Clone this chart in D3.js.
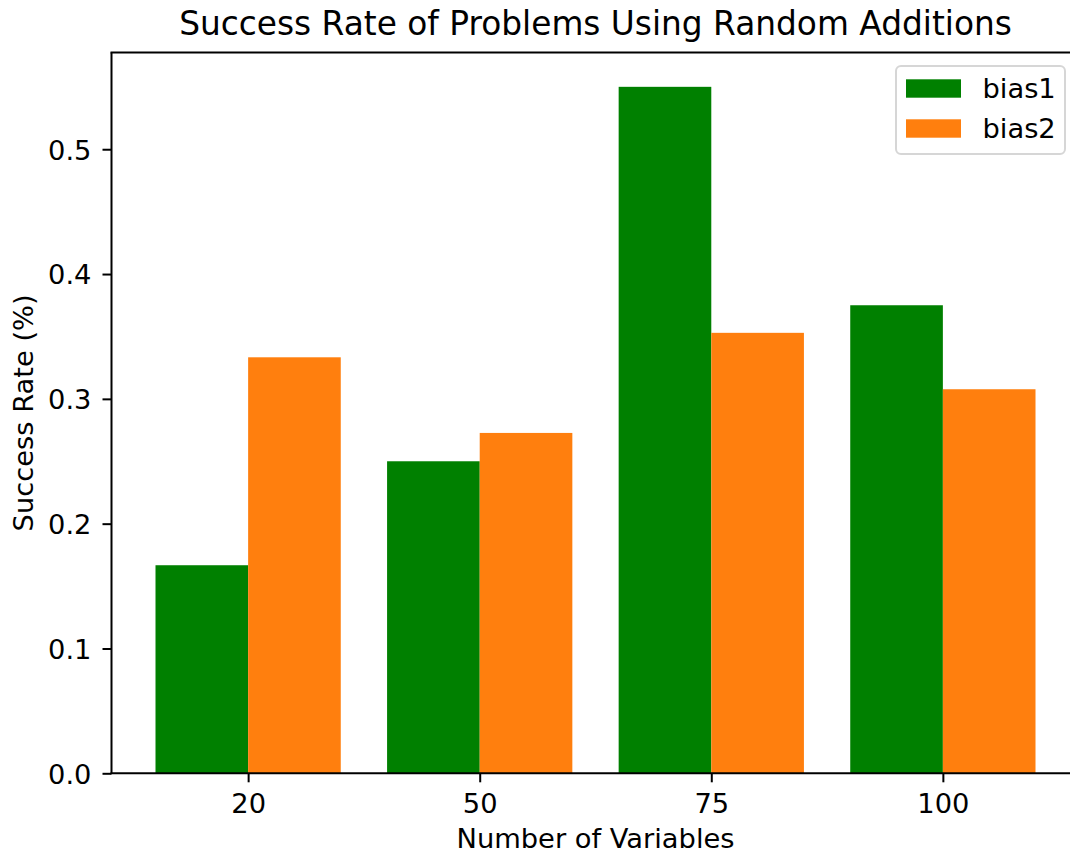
<!DOCTYPE html>
<html><head><meta charset="utf-8">
<script src="https://cdn.jsdelivr.net/npm/d3@7"></script>
<style>html,body{margin:0;padding:0;background:#fff;overflow:hidden}text{font-family:"DejaVu Sans",sans-serif;fill:#000}</style>
</head><body>
<script>
const categories = ["20", "50", "75", "100"];
const bias1 = [0.1667, 0.25, 0.55, 0.375];
const bias2 = [0.3333, 0.2727, 0.3529, 0.3077];
const seriesNames = ["bias1", "bias2"];
const seriesColors = ["#008000", "#ff7f0e"];
const yTicks = [0.0, 0.1, 0.2, 0.3, 0.4, 0.5];

const W = 1070, H = 853;
const L = 111.5, R = 1079.5, T = 52.5, B = 773.3;
const svg = d3.select("body").append("svg").attr("width", W).attr("height", H);

const x = d3.scaleLinear().domain([-0.59, categories.length - 1 + 0.59]).range([L, R]);
const y = d3.scaleLinear().domain([0, 0.5775]).range([B, T]);
const bw = 0.4;

const series = [bias1, bias2];
series.forEach((vals, s) => {
  svg.append("g").selectAll("rect").data(vals).join("rect")
    .attr("x", (d, i) => x(i + (s === 0 ? -bw : 0)))
    .attr("width", (d, i) => x(i + bw) - x(i))
    .attr("y", d => y(d))
    .attr("height", d => y(0) - y(d))
    .attr("fill", seriesColors[s]);
});

// axes
const fs = 27.3;
const yAxis = d3.axisLeft(y).tickValues(yTicks).tickFormat(d3.format(".1f")).tickSize(9).tickPadding(11);
const gy = svg.append("g").attr("transform", `translate(${L},0)`).call(yAxis);
const xAxis = d3.axisBottom(x).tickValues(d3.range(categories.length)).tickFormat(i => categories[i]).tickSize(9).tickPadding(8);
const gx = svg.append("g").attr("transform", `translate(0,${B})`).call(xAxis);
[gx, gy].forEach(g => {
  g.selectAll(".domain").remove();
  g.selectAll("line").attr("stroke", "#000").attr("stroke-width", 2);
  g.selectAll("text").attr("font-size", fs).attr("font-family", "DejaVu Sans").attr("fill", "#000");
});
gx.selectAll("text").attr("dy", null).attr("y", 40);
gy.selectAll("text").attr("dy", "0.36em");

// spines
const sp = svg.append("g").attr("stroke", "#000").attr("stroke-width", 2).attr("fill", "none");
sp.append("line").attr("x1", L).attr("x2", L).attr("y1", T).attr("y2", B);
sp.append("line").attr("x1", L - 1).attr("x2", R).attr("y1", B).attr("y2", B);
sp.append("line").attr("x1", L - 1).attr("x2", R).attr("y1", T).attr("y2", T);
sp.append("line").attr("x1", R).attr("x2", R).attr("y1", T).attr("y2", B);

// title and labels
svg.append("text").attr("x", (L + R) / 2).attr("y", 35).attr("text-anchor", "middle")
  .attr("font-size", 32.8).text("Success Rate of Problems Using Random Additions");
svg.append("text").attr("x", (L + R) / 2).attr("y", 848).attr("text-anchor", "middle")
  .attr("font-size", fs).text("Number of Variables");
svg.append("text").attr("transform", `translate(33,${(T + B) / 2}) rotate(-90)`).attr("text-anchor", "middle")
  .attr("font-size", fs).text("Success Rate (%)");

// legend
const lg = svg.append("g");
lg.append("rect").attr("x", 896).attr("y", 66).attr("width", 169).attr("height", 88).attr("rx", 5)
  .attr("fill", "#fff").attr("fill-opacity", 0.8).attr("stroke", "#d6d6d6").attr("stroke-width", 2);
seriesNames.forEach((n, i) => {
  lg.append("rect").attr("x", 906).attr("y", 79.3 + i * 40).attr("width", 55).attr("height", 18.4).attr("fill", seriesColors[i]);
  lg.append("text").attr("x", 982.5).attr("y", 97.5 + i * 40).attr("font-size", fs).text(n);
});
</script>
</body></html>
